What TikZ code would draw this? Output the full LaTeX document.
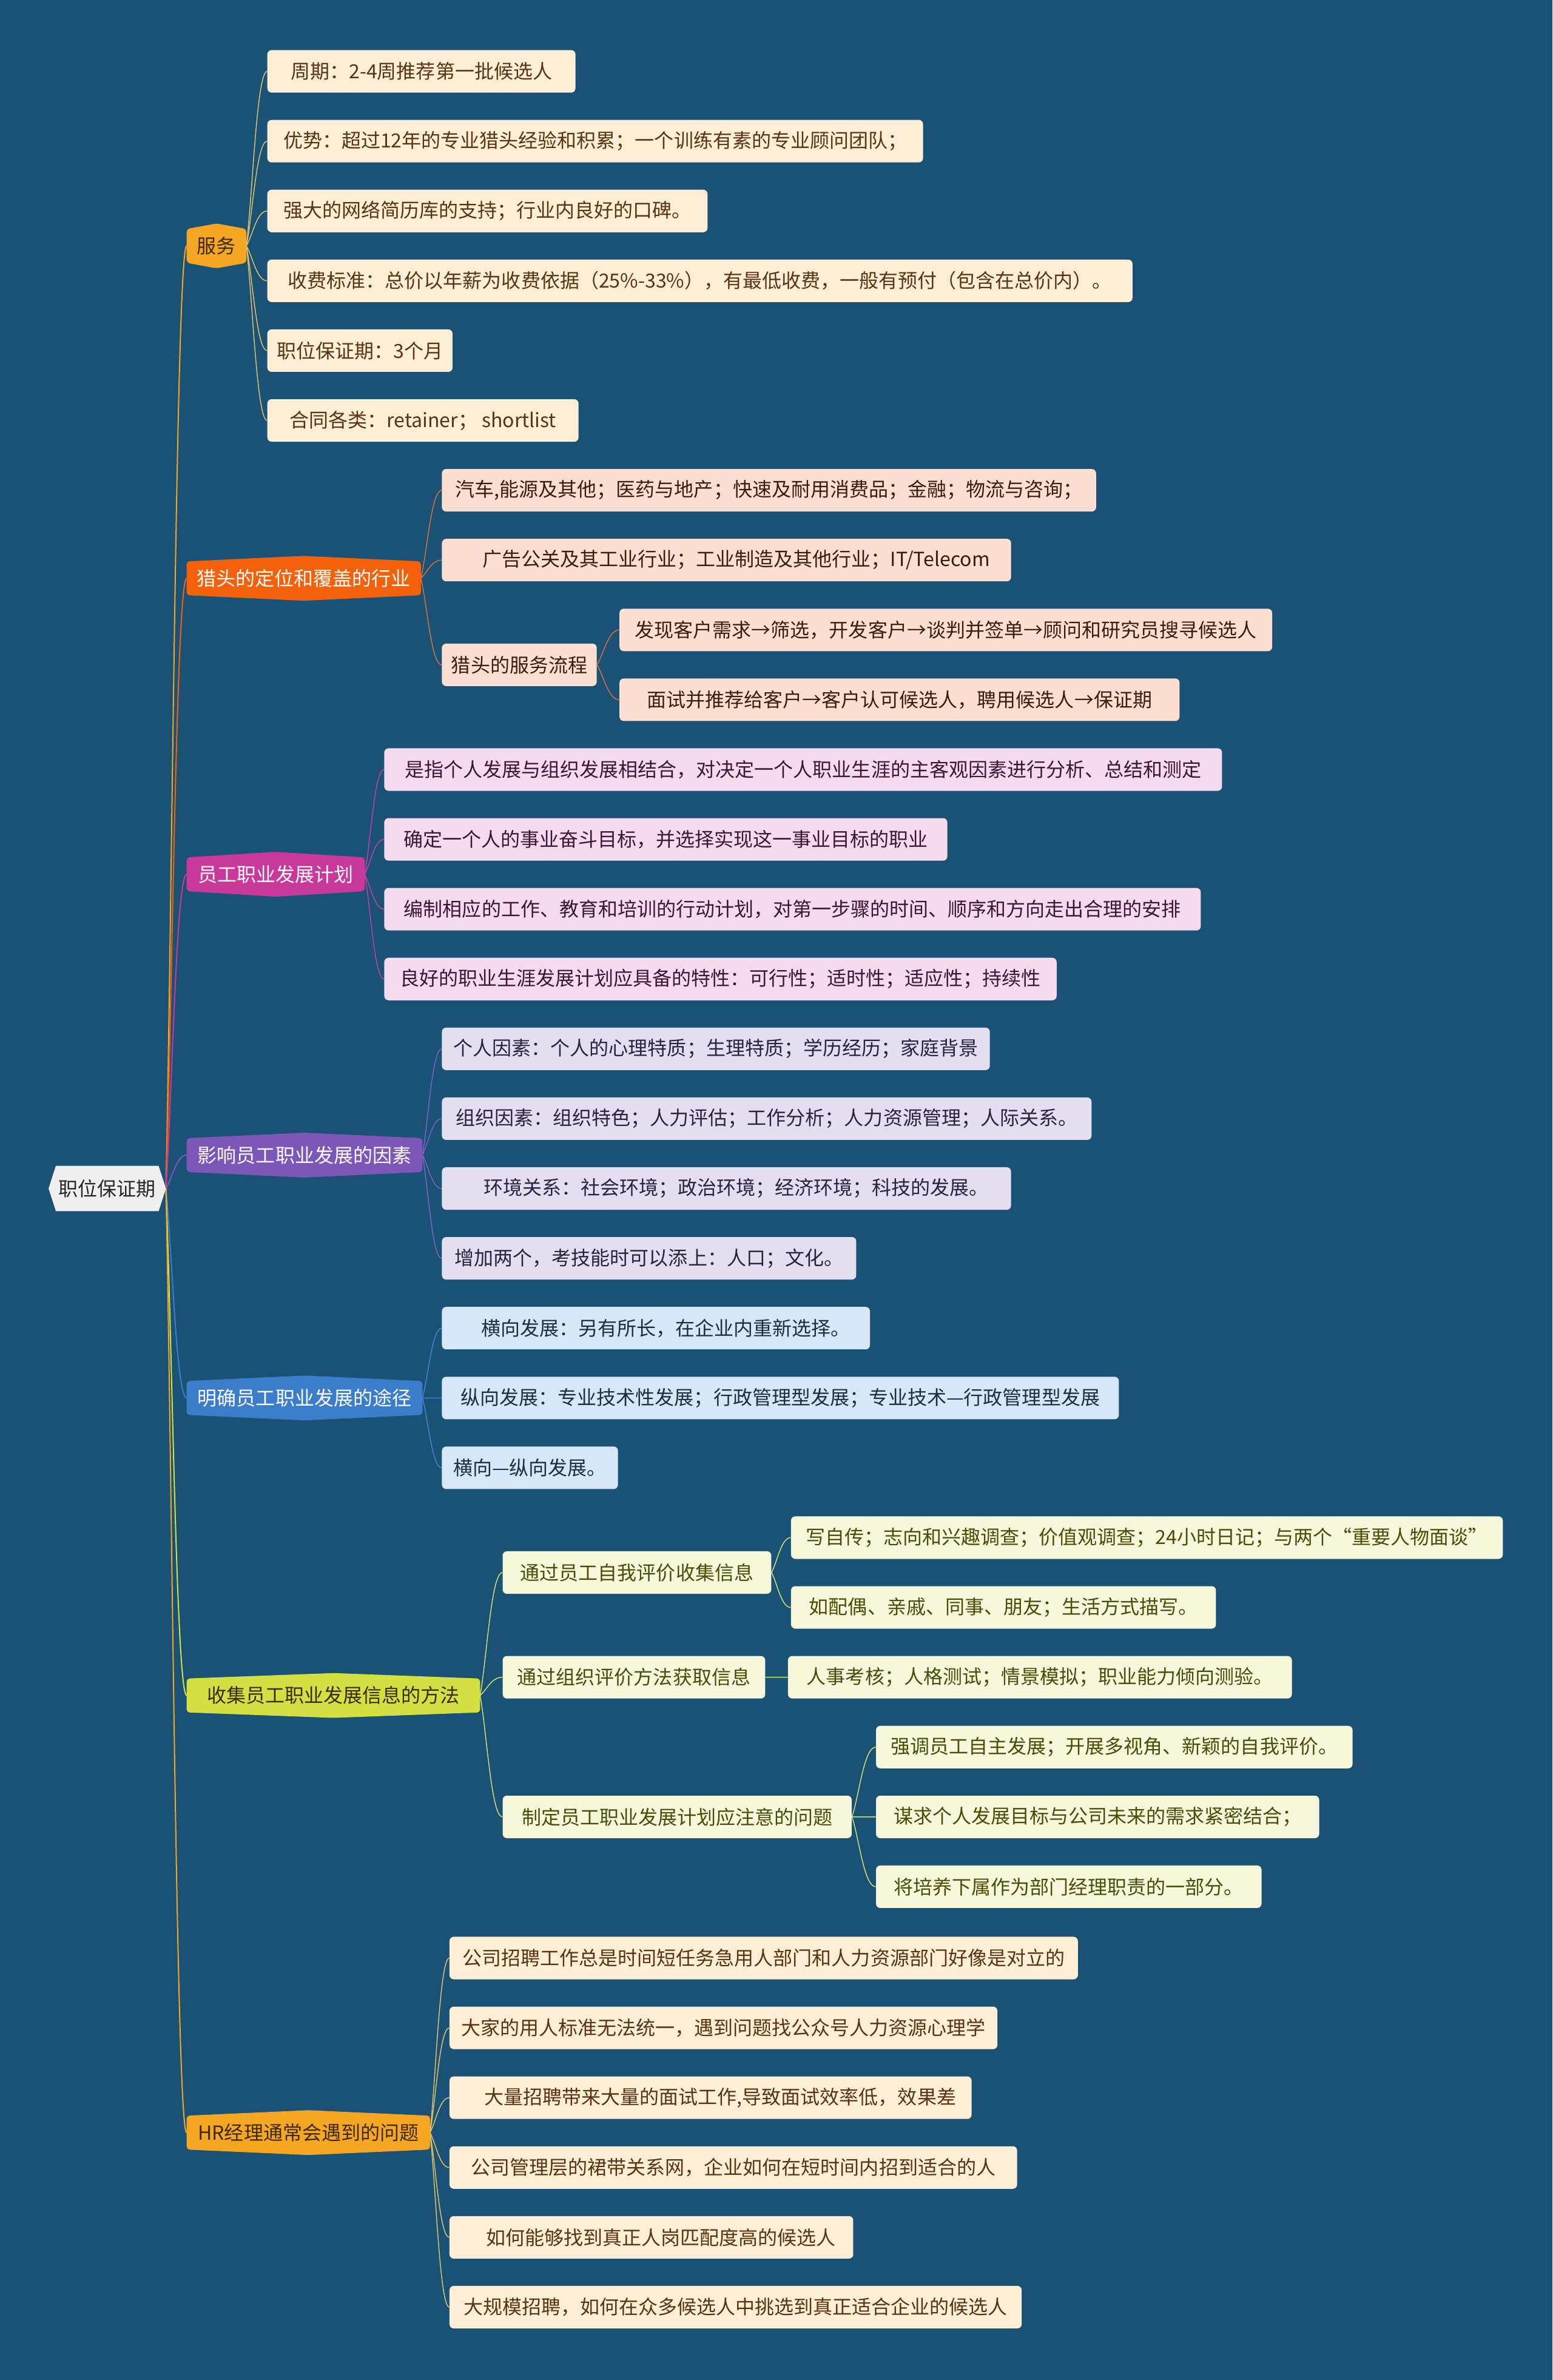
\documentclass[tikz,border=0pt]{standalone}
\usepackage{fontspec}
\setmainfont{Noto Sans CJK SC}
\usetikzlibrary{calc}
\pgfdeclarelayer{back}
\pgfdeclarelayer{conn}
\pgfdeclarelayer{shape}
\pgfsetlayers{back,conn,shape,main}

\definecolor{bgc}{HTML}{1A5276}
\definecolor{rootfill}{HTML}{EFEFEF}
\definecolor{c1}{HTML}{F5A623}
\definecolor{c2}{HTML}{F5600A}
\definecolor{c3}{HTML}{C9399B}
\definecolor{c4}{HTML}{7D56B9}
\definecolor{c5}{HTML}{3B7DCB}
\definecolor{c6}{HTML}{D3E042}
\definecolor{c7}{HTML}{F5A623}
\definecolor{l1}{HTML}{FDEED6}
\definecolor{l2}{HTML}{FCDFD0}
\definecolor{l3}{HTML}{F6DAEE}
\definecolor{l4}{HTML}{E4DEF1}
\definecolor{l5}{HTML}{D7E7F7}
\definecolor{l6}{HTML}{F6F7DB}
\definecolor{t1}{HTML}{5A3412}
\definecolor{t2}{HTML}{3D1C0E}
\definecolor{t3}{HTML}{3C1633}
\definecolor{t4}{HTML}{2B2140}
\definecolor{t5}{HTML}{1C2E45}
\definecolor{t6}{HTML}{4C4C08}
\definecolor{k1}{HTML}{E8C46A}
\definecolor{k2}{HTML}{E0713A}
\definecolor{k3}{HTML}{C93FA0}
\definecolor{k4}{HTML}{8462C4}
\definecolor{k5}{HTML}{4585D2}
\definecolor{k6}{HTML}{D9E36E}
\definecolor{darktxt}{HTML}{3B2A0C}

\tikzset{
  every node/.style={font=\fontsize{16pt}{19pt}\selectfont},
  leaf/.style={rounded corners=3.5pt, inner sep=0pt, minimum height=35pt, align=center},
  catbox/.style={inner sep=0pt, minimum height=27.5pt, align=center},
  lk/.style={line width=0.7pt},
  rk/.style={line width=1pt},
  b1/.style={fill=l1, text=t1},
  b2/.style={fill=l2, text=t2},
  b3/.style={fill=l3, text=t3},
  b4/.style={fill=l4, text=t4},
  b5/.style={fill=l5, text=t5},
  b6/.style={fill=l6, text=t6},
}

\newcommand\leafnode[6]{%
  \node[leaf, #5, minimum width={(#3-#2)*1.25pt}, anchor=west] (#1) at (#2,#4) {#6};}
\newcommand\catnode[7]{%
  \node[catbox, text=#6, minimum width={(#3-#2)*1.25pt}, anchor=west] (#1) at (#2,#4) {#7};
  \begin{pgfonlayer}{shape}
  \fill[#5, rounded corners=2.5pt] (#1.west) -- (#1.north west) -- ([yshift=4.5pt]#1.north) -- (#1.north east) -- (#1.south east) -- ([yshift=-4.5pt]#1.south) -- (#1.south west) -- cycle;
  \end{pgfonlayer}}
\newcommand\link[3]{%
  \begin{pgfonlayer}{conn}
  \draw[#1] (#2.east) .. controls ($(#2.east)!0.3!(#3.west)$) and ($(#3.west)!0.5!(#2.east |- #3.west)$) .. (#3.west);
  \end{pgfonlayer}}

\begin{document}
\begin{tikzpicture}[x=1.25pt, y=-1.25pt]
\begin{pgfonlayer}{back}
\fill[bgc] (0,0) rectangle (1023,1568);
\end{pgfonlayer}
\useasboundingbox (0,0) rectangle (1023,1568);

% root
\node[catbox, text=black!85, minimum width={77*1.25pt}, minimum height={29.5*1.25pt}, anchor=west] (root) at (32,783) {职位保证期};
\begin{pgfonlayer}{shape}
\fill[rootfill] (root.west) -- ([xshift=6pt]root.north west) -- ([xshift=-6pt]root.north east) -- (root.east) -- ([xshift=-6pt]root.south east) -- ([xshift=6pt]root.south west) -- cycle;
\end{pgfonlayer}

% categories
\catnode{s}{123}{162}{162}{c1}{darktxt}{服务}
\catnode{h}{123}{277}{381}{c2}{white}{猎头的定位和覆盖的行业}
\catnode{p}{123}{240}{576}{c3}{white}{员工职业发展计划}
\catnode{f}{123}{278}{761}{c4}{white}{影响员工职业发展的因素}
\catnode{w}{123}{278}{921}{c5}{white}{明确员工职业发展的途径}
\catnode{g}{123}{316}{1117}{c6}{darktxt}{收集员工职业发展信息的方法}
\catnode{r}{123}{283}{1405}{c7}{darktxt}{HR经理通常会遇到的问题}

% 服务
\leafnode{s1}{176}{379}{47}{b1}{周期：2-4周推荐第一批候选人}
\leafnode{s2}{176}{608}{93}{b1}{优势：超过12年的专业猎头经验和积累；一个训练有素的专业顾问团队；}
\leafnode{s3}{176}{466}{139}{b1}{强大的网络简历库的支持；行业内良好的口碑。}
\leafnode{s4}{176}{746}{185}{b1}{收费标准：总价以年薪为收费依据（25\%-33\%），有最低收费，一般有预付（包含在总价内）。}
\leafnode{s5}{176}{298}{231}{b1}{职位保证期：3个月}
\leafnode{s6}{176}{381}{277}{b1}{合同各类：retainer； shortlist}

% 猎头
\leafnode{h1}{291}{722}{323}{b2}{汽车,能源及其他；医药与地产；快速及耐用消费品；金融；物流与咨询；}
\leafnode{h2}{291}{666}{369}{b2}{\quad 广告公关及其工业行业；工业制造及其他行业；IT/Telecom}
\leafnode{h3}{291}{393}{438}{b2}{猎头的服务流程}
\leafnode{h31}{408}{838}{415}{b2}{发现客户需求→筛选，开发客户→谈判并签单→顾问和研究员搜寻候选人}
\leafnode{h32}{408}{777}{461}{b2}{面试并推荐给客户→客户认可候选人，聘用候选人→保证期}

% 员工职业发展计划
\leafnode{p1}{253}{805}{507}{b3}{是指个人发展与组织发展相结合，对决定一个人职业生涯的主客观因素进行分析、总结和测定}
\leafnode{p2}{253}{624}{553}{b3}{确定一个人的事业奋斗目标，并选择实现这一事业目标的职业}
\leafnode{p3}{253}{791}{599}{b3}{编制相应的工作、教育和培训的行动计划，对第一步骤的时间、顺序和方向走出合理的安排}
\leafnode{p4}{253}{696}{645}{b3}{良好的职业生涯发展计划应具备的特性：可行性；适时性；适应性；持续性}

% 影响
\leafnode{f1}{291}{652}{691}{b4}{个人因素：个人的心理特质；生理特质；学历经历；家庭背景}
\leafnode{f2}{291}{719}{737}{b4}{组织因素：组织特色；人力评估；工作分析；人力资源管理；人际关系。}
\leafnode{f3}{291}{666}{783}{b4}{\quad 环境关系：社会环境；政治环境；经济环境；科技的发展。}
\leafnode{f4}{291}{564}{829}{b4}{增加两个，考技能时可以添上：人口；文化。}

% 途径
\leafnode{w1}{291}{573}{875}{b5}{\quad 横向发展：另有所长，在企业内重新选择。}
\leafnode{w2}{291}{737}{921}{b5}{纵向发展：专业技术性发展；行政管理型发展；专业技术—行政管理型发展}
\leafnode{w3}{291}{407}{967}{b5}{横向—纵向发展。}

% 收集
\leafnode{g1}{331}{508}{1036}{b6}{通过员工自我评价收集信息}
\leafnode{g11}{521}{990}{1013}{b6}{写自传；志向和兴趣调查；价值观调查；24小时日记；与两个“重要人物面谈”}
\leafnode{g12}{521}{801}{1059}{b6}{如配偶、亲戚、同事、朋友；生活方式描写。}
\leafnode{g2}{331}{504}{1105}{b6}{通过组织评价方法获取信息}
\leafnode{g21}{519}{851}{1105}{b6}{人事考核；人格测试；情景模拟；职业能力倾向测验。}
\leafnode{g3}{331}{561}{1197}{b6}{制定员工职业发展计划应注意的问题}
\leafnode{g31}{577}{891}{1151}{b6}{强调员工自主发展；开展多视角、新颖的自我评价。}
\leafnode{g32}{577}{869}{1197}{b6}{谋求个人发展目标与公司未来的需求紧密结合；}
\leafnode{g33}{577}{831}{1243}{b6}{将培养下属作为部门经理职责的一部分。}

% HR
\leafnode{r1}{296}{710}{1290}{b1}{公司招聘工作总是时间短任务急用人部门和人力资源部门好像是对立的}
\leafnode{r2}{296}{657}{1336}{b1}{大家的用人标准无法统一，遇到问题找公众号人力资源心理学}
\leafnode{r3}{296}{640}{1382}{b1}{\quad 大量招聘带来大量的面试工作,导致面试效率低，效果差}
\leafnode{r4}{296}{670}{1428}{b1}{公司管理层的裙带关系网，企业如何在短时间内招到适合的人}
\leafnode{r5}{296}{562}{1474}{b1}{\quad 如何能够找到真正人岗匹配度高的候选人}
\leafnode{r6}{296}{673}{1520}{b1}{大规模招聘，如何在众多候选人中挑选到真正适合企业的候选人}

% root links
\link{rk,c1}{root}{s}
\link{rk,c2}{root}{h}
\link{rk,c3}{root}{p}
\link{rk,c4}{root}{f}
\link{rk,c5}{root}{w}
\link{rk,c6}{root}{g}
\link{rk,c7}{root}{r}

% branch links
\foreach \n in {s1,s2,s3,s4,s5,s6} {\link{lk,k1}{s}{\n}}
\foreach \n in {h1,h2,h3} {\link{lk,k2}{h}{\n}}
\foreach \n in {h31,h32} {\link{lk,k2}{h3}{\n}}
\foreach \n in {p1,p2,p3,p4} {\link{lk,k3}{p}{\n}}
\foreach \n in {f1,f2,f3,f4} {\link{lk,k4}{f}{\n}}
\foreach \n in {w1,w2,w3} {\link{lk,k5}{w}{\n}}
\foreach \n in {g1,g2,g3} {\link{lk,k6}{g}{\n}}
\foreach \n in {g11,g12} {\link{lk,k6}{g1}{\n}}
\link{lk,k6}{g2}{g21}
\foreach \n in {g31,g32,g33} {\link{lk,k6}{g3}{\n}}
\foreach \n in {r1,r2,r3,r4,r5,r6} {\link{lk,k1}{r}{\n}}
\end{tikzpicture}
\end{document}
